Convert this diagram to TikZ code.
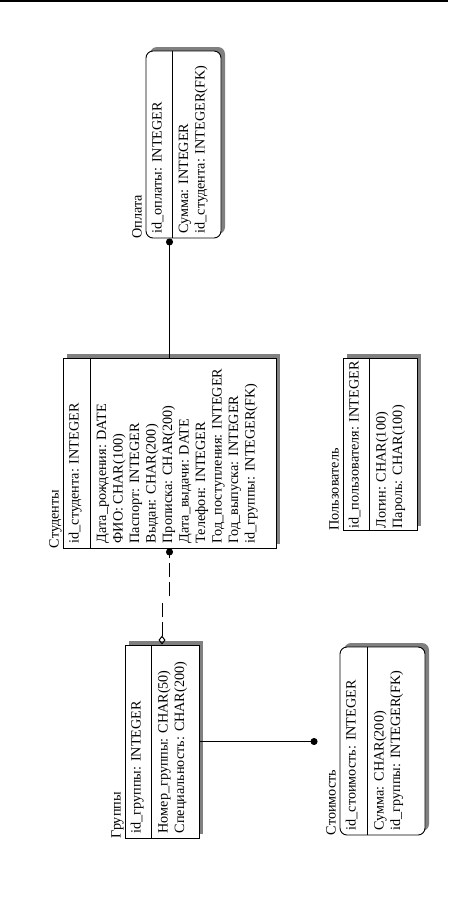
\documentclass[tikz,border=0pt]{standalone}
\usepackage{fontspec}
\setmainfont{Liberation Serif}
\usetikzlibrary{arrows.meta, shadows, calc}

\begin{document}
\begin{tikzpicture}[
  x=1pt, y=-1pt,
  every node/.style={font=\fontsize{14.2}{16.5}\selectfont},
  entity/.style={rectangle, draw, line width=0.9pt, fill=white, inner sep=0pt,
    general shadow={fill=black!50, shadow xshift=4pt, shadow yshift=4pt}},
  depentity/.style={entity, rounded corners=7pt},
  keytxt/.style={rotate=90, anchor=north west, inner sep=0pt, align=left},
  attrtxt/.style={keytxt},
  ename/.style={rotate=90, anchor=base west, inner sep=0pt},
  sepline/.style={line width=0.9pt},
  rel/.style={line width=1pt},
  idrel/.style={rel, dash pattern=on 14pt off 5pt},
  dot/.style={-{Circle[length=7pt]}},
  diam/.style={{Diamond[open, length=9pt, width=7pt]}-},
]
\useasboundingbox (0,0) rectangle (448,897);
\draw[line width=2pt] (0,1) -- (448,1);

% entity boxes
\node[depentity, minimum width=75pt,  minimum height=187pt] (opl)  at (183.5,144.5) {};
\node[entity,    minimum width=213pt, minimum height=190pt] (stud) at (169.5,453) {};
\node[entity,    minimum width=74pt,  minimum height=172pt] (usr)  at (380,444) {};
\node[entity,    minimum width=74pt,  minimum height=193pt] (gr)   at (162,741.5) {};
\node[depentity, minimum width=85pt,  minimum height=188pt] (cost) at (382.5,741) {};

% key / non-key separators
\draw[sepline] ($(opl.north west)+(27,0)$)  -- ($(opl.south west)+(27,0)$)  coordinate (oplsep);
\draw[sepline] ($(stud.north west)+(28,0)$) -- ($(stud.south west)+(28,0)$) coordinate (studsep);
\draw[sepline] ($(usr.north west)+(27,0)$)  -- ($(usr.south west)+(27,0)$)  coordinate (usrsep);
\draw[sepline] ($(gr.north west)+(27,0)$)   -- ($(gr.south west)+(27,0)$)   coordinate (grsep);
\draw[sepline] ($(cost.north west)+(28,0)$) -- ($(cost.south west)+(28,0)$) coordinate (costsep);

% Оплата
\node[ename]   (oplname) at ($(opl.south west)+(-4,0)$) {Оплата};
\node[keytxt]  (oplkey)  at ($(opl.south west)+(6,-5)$) {id\_оплаты: INTEGER};
\node[attrtxt] (oplattr) at ($(oplsep)+(6,-5)$) {Сумма: INTEGER\\id\_студента: INTEGER(FK)};

% Студенты
\node[ename]   (studname) at ($(stud.south west)+(-4,0)$) {Студенты};
\node[keytxt]  (studkey)  at ($(stud.south west)+(6,-5)$) {id\_студента: INTEGER};
\node[attrtxt] (studattr) at ($(studsep)+(6,-5)$) {Дата\_рождения: DATE\\ФИО: CHAR(100)\\Паспорт: INTEGER\\Выдан: CHAR(200)\\Прописка: CHAR(200)\\Дата\_выдачи: DATE\\Телефон: INTEGER\\Год\_поступления: INTEGER\\Год\_выпуска: INTEGER\\id\_группы: INTEGER(FK)};

% Пользователь
\node[ename]   (usrname) at ($(usr.south west)+(-4,0)$) {Пользователь};
\node[keytxt]  (usrkey)  at ($(usr.south west)+(6,-2)$) {id\_пользователя: INTEGER};
\node[attrtxt] (usrattr) at ($(usrsep)+(6,-2)$) {Логин: CHAR(100)\\Пароль: CHAR(100)};

% Группы
\node[ename]   (grname) at ($(gr.south west)+(-4,0)$) {Группы};
\node[keytxt]  (grkey)  at ($(gr.south west)+(6,-5)$) {id\_группы: INTEGER};
\node[attrtxt] (grattr) at ($(grsep)+(6,-5)$) {Номер\_группы: CHAR(50)\\Специальность: CHAR(200)};

% Стоимость
\node[ename]   (costname) at ($(cost.south west)+(-4,0)$) {Стоимость};
\node[keytxt]  (costkey)  at ($(cost.south west)+(6,-5)$) {id\_стоимость: INTEGER};
\node[attrtxt] (costattr) at ($(costsep)+(6,-5)$) {Сумма: CHAR(200)\\id\_группы: INTEGER(FK)};

% relationships
\draw[rel, dot] (stud.north) -- (stud.north |- opl.south);

\coordinate (jogl) at ($(gr.north)+(0,-46)$);
\coordinate (jogu) at ($(stud.south)+(0,48)$);
\draw[idrel, diam] (gr.north) -- (jogl);
\draw[idrel, dot]  (jogu) -- (stud.south);

\draw[rel, dot, shorten >=22pt] (gr.east) -- (gr.east -| cost.west);
\end{tikzpicture}
\end{document}
